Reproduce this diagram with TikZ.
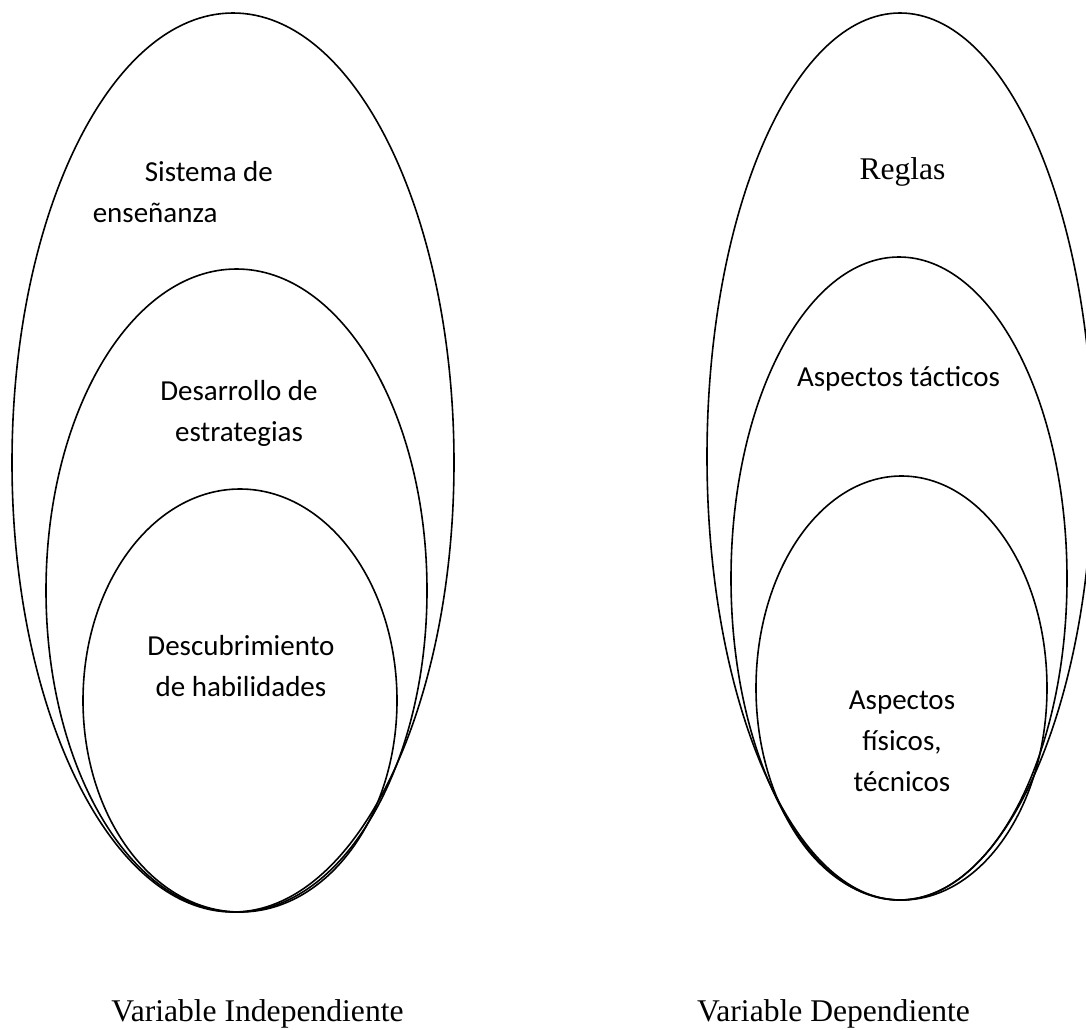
\documentclass[tikz,border=0pt]{standalone}
\usepackage{fontspec}
\setmainfont{Liberation Serif}
\newfontfamily\calibrifont{Carlito}

\tikzset{every picture/.style={line width=1.2pt}}
\tikzset{
  boxtext/.style={font=\calibrifont\fontsize{21.75pt}{30.5pt}\selectfont, inner sep=0.75pt},
  captext/.style={font=\fontsize{23.7pt}{28pt}\selectfont, inner sep=0.75pt}
}

\begin{document}
\begin{tikzpicture}[x=0.75pt,y=0.75pt,yscale=-1,xscale=1]
\useasboundingbox (0,0) rectangle (1086,1029);
\clip (0,0) rectangle (1086,1029);

%Shape: Ellipse (left, outer)
\draw   (12,462.5) .. controls (12,214.24) and (110.94,13) .. (233,13) .. controls (355.06,13) and (454,214.24) .. (454,462.5) .. controls (454,710.76) and (355.06,912) .. (233,912) .. controls (110.94,912) and (12,710.76) .. (12,462.5) -- cycle ;
%Shape: Ellipse (left, middle)
\draw   (46,590.5) .. controls (46,412.94) and (131.29,269) .. (236.5,269) .. controls (341.71,269) and (427,412.94) .. (427,590.5) .. controls (427,768.06) and (341.71,912) .. (236.5,912) .. controls (131.29,912) and (46,768.06) .. (46,590.5) -- cycle ;
%Shape: Ellipse (left, inner)
\draw   (83,700.5) .. controls (83,583.69) and (153.29,489) .. (240,489) .. controls (326.71,489) and (397,583.69) .. (397,700.5) .. controls (397,817.31) and (326.71,912) .. (240,912) .. controls (153.29,912) and (83,817.31) .. (83,700.5) -- cycle ;

%Shape: Ellipse (right, outer)
\draw   (707,456.5) .. controls (707,211.57) and (793.41,13) .. (900,13) .. controls (1006.59,13) and (1093,211.57) .. (1093,456.5) .. controls (1093,701.43) and (1006.59,900) .. (900,900) .. controls (793.41,900) and (707,701.43) .. (707,456.5) -- cycle ;
%Shape: Ellipse (right, middle)
\draw   (731,578.5) .. controls (731,400.94) and (806.21,257) .. (899,257) .. controls (991.79,257) and (1067,400.94) .. (1067,578.5) .. controls (1067,756.06) and (991.79,900) .. (899,900) .. controls (806.21,900) and (731,756.06) .. (731,578.5) -- cycle ;
%Shape: Ellipse (right, inner)
\draw   (756,688) .. controls (756,570.91) and (821.14,476) .. (901.5,476) .. controls (981.86,476) and (1047,570.91) .. (1047,688) .. controls (1047,805.09) and (981.86,900) .. (901.5,900) .. controls (821.14,900) and (756,805.09) .. (756,688) -- cycle ;

% Text Node
\draw (91,222) node [boxtext, anchor=base west, align=left] (sistema) {\hspace*{39pt}Sistema de\\enseñanza};
% Text Node
\draw (239,441) node [boxtext, anchor=base, align=center] (desarrollo) {Desarrollo de\\estrategias};
% Text Node
\draw (241,696) node [boxtext, anchor=base, align=center] (descubrimiento) {Descubrimiento\\de habilidades};
% Text Node
\draw (902.5,179) node [captext, anchor=base] (reglas) {Reglas};
% Text Node
\draw (898.5,386) node [boxtext, anchor=base] (tacticos) {Aspectos tácticos};
% Text Node
\draw (902,791) node [boxtext, anchor=base, align=center] (fisicos) {Aspectos\\físicos,\\técnicos};
% Text Node
\draw (257.5,1021) node [captext, anchor=base] (indep) {Variable Independiente};
% Text Node
\draw (833.5,1021) node [captext, anchor=base] (dep) {Variable Dependiente};

\end{tikzpicture}
\end{document}
